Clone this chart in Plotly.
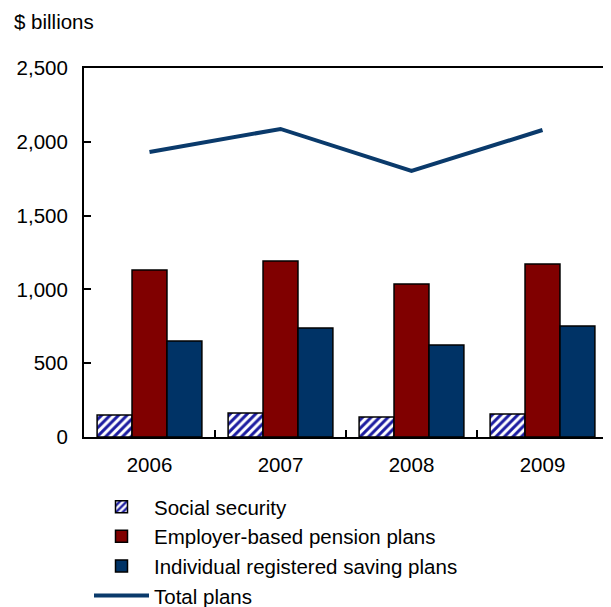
import plotly.graph_objects as go

years = ["2006", "2007", "2008", "2009"]
social_security = [149, 163, 135, 156]
employer_plans = [1131, 1192, 1037, 1172]
individual_plans = [650, 738, 623, 752]
total_plans = [1931, 2087, 1802, 2080]

FONT = "Liberation Sans, Arial, sans-serif"
FS = 20.5

# page body has an 8px margin; figure is sized to fill the remainder
W, H = 603, 599
ML, MR, MT, MB = 76, 3, 60, 170
PW, PH = W - ML - MR, H - MT - MB

fig = go.Figure()
fig.add_trace(go.Bar(
    x=years, y=social_security, name="Social security",
    marker=dict(color="white", line=dict(color="black", width=1.5),
                pattern=dict(shape="/", fgcolor="#1c1ca0", bgcolor="white",
                             fgopacity=1, size=6, solidity=0.5)),
    legendgroup="a",
))
fig.add_trace(go.Bar(
    x=years, y=employer_plans, name="Employer-based pension plans",
    marker=dict(color="#800000", line=dict(color="black", width=1.5)),
    legendgroup="b",
))
fig.add_trace(go.Bar(
    x=years, y=individual_plans, name="Individual registered saving plans",
    marker=dict(color="#003366", line=dict(color="black", width=1.5)),
    legendgroup="c",
))
fig.add_trace(go.Scatter(
    x=years, y=total_plans, name="Total plans", mode="lines",
    line=dict(color="#0a3a6b", width=4),
    legendgroup="d",
))

fig.update_layout(
    width=W, height=H,
    margin=dict(l=ML, r=MR, t=MT, b=MB, autoexpand=False),
    paper_bgcolor="white", plot_bgcolor="white",
    font=dict(family=FONT, size=FS, color="black"),
    barmode="group", bargap=0.2, bargroupgap=0,
    showlegend=True,
    legend=dict(x=5 / PW, y=-0.135, xanchor="left", yanchor="top",
                orientation="v", traceorder="normal", tracegroupgap=7,
                itemwidth=55, font=dict(size=FS, family=FONT),
                bgcolor="rgba(0,0,0,0)"),
    annotations=[dict(text="$ billions", x=(4 - ML) / PW, y=1 + (MT - 14) / PH,
                      xref="paper", yref="paper",
                      showarrow=False, xanchor="left", yanchor="middle",
                      font=dict(size=FS))],
)
fig.update_xaxes(
    showline=True, linecolor="black", linewidth=2, mirror=True,
    ticks="inside", tickson="boundaries", ticklen=7, tickcolor="black", tickwidth=2,
    showgrid=False, tickfont=dict(size=FS), ticklabelstandoff=8,
)
fig.update_yaxes(
    range=[0, 2500], tickvals=[0, 500, 1000, 1500, 2000, 2500], tickformat=",",
    showline=True, linecolor="black", linewidth=2, mirror=True,
    ticks="inside", ticklen=7, tickcolor="black", tickwidth=2,
    showgrid=False, zeroline=False, tickfont=dict(size=FS), ticklabelstandoff=10,
)

fig.write_html("out.html")
